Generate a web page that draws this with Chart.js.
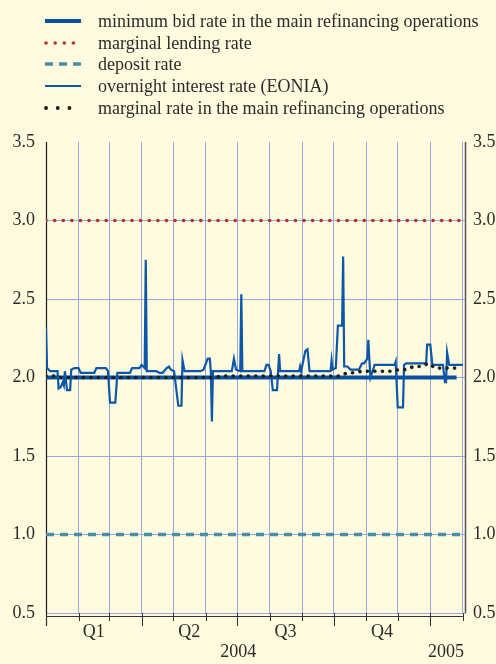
<!DOCTYPE html>
<html>
<head>
<meta charset="utf-8">
<script src="https://cdn.jsdelivr.net/npm/chart.js@4/dist/chart.umd.min.js"></script>
<style>
  html, body { margin: 0; padding: 0; background: #fffbdf; }
  #wrap { position: relative; width: 496px; height: 664px; background: #fffbdf; }
  #legend { position: absolute; left: 0; top: 0; width: 496px; font-family: 'Liberation Serif', serif; font-size: 18px; color: #2b2b2b; }
  .row { position: absolute; left: 44px; height: 22px; display: flex; align-items: center; white-space: nowrap; }
  .row svg { width: 40px; height: 22px; margin-right: 14px; }
</style>
</head>
<body>
<div id="wrap">
  <canvas id="chart" width="496" height="664"></canvas>
  <div id="legend">
    <div class="row" style="top:10px"><svg><line x1="1" y1="11" x2="37" y2="11" stroke="#0c4f9c" stroke-width="4"/></svg>minimum bid rate in the main refinancing operations</div>
    <div class="row" style="top:32px"><svg><line x1="2" y1="11" x2="38" y2="11" stroke="#b3342f" stroke-width="3.5" stroke-linecap="round" stroke-dasharray="0.1 9"/></svg>marginal lending rate</div>
    <div class="row" style="top:53px"><svg><line x1="1" y1="11" x2="38" y2="11" stroke="#4a8ea6" stroke-width="3.5" stroke-dasharray="8 6"/></svg>deposit rate</div>
    <div class="row" style="top:75px"><svg><line x1="1" y1="11" x2="37" y2="11" stroke="#0c57a8" stroke-width="2.2"/></svg>overnight interest rate (EONIA)</div>
    <div class="row" style="top:97px"><svg><line x1="2" y1="11" x2="37" y2="11" stroke="#1e1e1e" stroke-width="3.8" stroke-linecap="round" stroke-dasharray="0.1 11.6"/></svg>marginal rate in the main refinancing operations</div>
  </div>
</div>
<script>
// days counted from 1 January 2004
const monthStarts = [0, 31, 60, 91, 121, 152, 182, 213, 244, 274, 305, 335, 366, 397];
const quarterStarts = [0, 91, 182, 274, 366];
const quarterLabels = ['Q1', 'Q2', 'Q3', 'Q4'];
const quarterMid = [45.5, 136.5, 228, 320];
const yearLabels = ['2004', '2005'];
const yearMid = [183, 381];
const yTicks = [0.5, 1.0, 1.5, 2.0, 2.5, 3.0, 3.5];

// minimum bid rate in the main refinancing operations
const minBidDays = [0, 391];
const minBidRate = [2.00, 2.00];

// marginal lending rate
const lendingDays = [0, 400];
const lendingRate = [3.00, 3.00];

// deposit rate
const depositDays = [0, 400];
const depositRate = [1.00, 1.00];

// overnight interest rate (EONIA)
const eoniaDays = [
  0, 1, 4, 11, 12, 14, 16, 17, 18, 20, 23, 24, 27, 31, 33, 46, 48, 51, 57, 59,
  61, 66, 68, 70, 80, 82, 89, 91, 94, 95, 96, 105, 108, 111, 115, 117, 119, 122,
  126, 129, 130, 132, 147, 150, 154, 156, 157, 158, 159, 177, 179, 181, 185, 186,
  187, 208, 210, 212, 214, 216, 220, 222, 223, 241, 242, 243, 247, 249, 251, 271,
  272, 273, 276, 278, 282, 283, 284, 287, 290, 298, 301, 303, 306, 307, 308, 309,
  313, 332, 333, 335, 340, 341, 343, 362, 363, 366, 368, 378, 380, 381, 382, 384, 397
];
const eoniaRate = [
  2.32, 2.06, 2.04, 2.04, 1.93, 1.94, 1.97, 1.95, 2.04, 1.92, 1.92, 2.05, 2.06, 2.06, 2.03, 2.03, 2.06, 2.06, 2.06, 2.04,
  1.84, 1.84, 2.03, 2.03, 2.03, 2.06, 2.06, 2.08, 2.06, 2.75, 2.04, 2.04, 2.03, 2.03, 2.06, 2.07, 2.05, 2.04,
  1.82, 1.82, 2.11, 2.04, 2.04, 2.05, 2.12, 2.12, 2.04, 1.72, 2.04, 2.04, 2.12, 2.05, 2.04, 2.53,
  2.04, 2.04, 2.08, 2.08, 2.04, 1.92, 1.92, 2.15, 2.04, 2.04, 2.07, 2.04, 2.17, 2.18, 2.04, 2.04,
  2.11, 2.05, 2.06, 2.33, 2.33, 2.77, 2.07, 2.07, 2.05, 2.05, 2.09, 2.09, 2.12, 2.24, 2.11, 2.00,
  2.08, 2.08, 2.10, 1.81, 1.81, 2.08, 2.09, 2.09, 2.21, 2.21, 2.08, 2.08, 1.97, 1.97, 2.16, 2.08, 2.08
];

// marginal rate in the main refinancing operations (weekly tenders)
const marginalDays = [
  0, 7, 14, 21, 28, 35, 42, 49, 56, 63, 70, 77, 84, 91, 98, 105, 112, 119, 126, 133,
  140, 147, 154, 161, 168, 175, 182, 189, 196, 203, 210, 217, 224, 231, 238, 245, 252,
  259, 266, 273, 280, 287, 294, 301, 308, 315, 322, 329, 336, 343, 350, 357, 364, 371,
  378, 385, 392
];
const marginalRate = [
  2.01, 2.01, 2.00, 2.00, 2.00, 2.00, 2.00, 2.00, 2.00, 2.00, 2.00, 2.00, 2.00, 2.00, 2.00, 2.00, 2.00, 2.00, 2.00, 2.00,
  2.00, 2.00, 2.00, 2.00, 2.01, 2.01, 2.01, 2.01, 2.01, 2.01, 2.01, 2.01, 2.01, 2.01, 2.01, 2.01, 2.01,
  2.01, 2.01, 2.01, 2.01, 2.03, 2.03, 2.04, 2.04, 2.04, 2.04, 2.04, 2.05, 2.05, 2.07, 2.07, 2.09, 2.06,
  2.06, 2.06, 2.06
];

const gridColor = '#9aa8de';
const textColor = '#2b2b2b';
const serif = "'Liberation Serif', serif";

function pts(xs, ys) {
  return xs.map((x, i) => ({x: x, y: ys[i]}));
}

// axis frame, month brackets and quarter / year labels
const framePlugin = {
  id: 'frame',
  beforeDatasetsDraw(chart) {
    const ctx = chart.ctx;
    const a = chart.chartArea;
    const xs = chart.scales.x;
    ctx.save();
    ctx.strokeStyle = '#1a1a1a';
    ctx.lineWidth = 1.2;
    ctx.beginPath();
    ctx.moveTo(a.left + 0.5, a.top);
    ctx.lineTo(a.left + 0.5, a.bottom + 13);
    ctx.stroke();
    ctx.strokeStyle = '#555';
    ctx.lineWidth = 1.5;
    ctx.beginPath();
    ctx.moveTo(a.right - 0.5, a.top);
    ctx.lineTo(a.right - 0.5, a.bottom);
    ctx.stroke();

    // bracket row under the plot
    ctx.strokeStyle = '#333';
    ctx.lineWidth = 1;
    const yb = a.bottom + 3.5;
    ctx.beginPath();
    ctx.moveTo(a.left, yb);
    ctx.lineTo(xs.getPixelForValue(monthStarts[monthStarts.length - 1]), yb);
    monthStarts.forEach(d => {
      const px = Math.round(xs.getPixelForValue(d)) + 0.5;
      const len = quarterStarts.includes(d) ? 13 : 8;
      ctx.moveTo(px, a.bottom);
      ctx.lineTo(px, a.bottom + len);
    });
    ctx.stroke();
    ctx.restore();
  },
  afterDraw(chart) {
    const ctx = chart.ctx;
    const a = chart.chartArea;
    const xs = chart.scales.x;
    ctx.save();
    ctx.fillStyle = textColor;
    ctx.font = '18px ' + serif;
    ctx.textAlign = 'center';
    ctx.textBaseline = 'middle';
    quarterLabels.forEach((q, i) => ctx.fillText(q, xs.getPixelForValue(quarterMid[i]), a.bottom + 19));
    yearLabels.forEach((y, i) => ctx.fillText(y, xs.getPixelForValue(yearMid[i]), a.bottom + 39));
    ctx.restore();
  }
};

const ctx = document.getElementById('chart').getContext('2d');
new Chart(ctx, {
  type: 'line',
  data: {
    datasets: [
      {
        label: 'marginal rate in the main refinancing operations',
        data: pts(marginalDays, marginalRate),
        borderColor: '#1e1e1e',
        borderWidth: 3.6,
        borderDash: [0.1, 7.4],
        borderCapStyle: 'round',
        order: 0
      },
      {
        label: 'minimum bid rate in the main refinancing operations',
        data: pts(minBidDays, minBidRate),
        borderColor: '#0c4f9c',
        borderWidth: 4,
        borderCapStyle: 'butt',
        order: 2
      },
      {
        label: 'overnight interest rate (EONIA)',
        data: pts(eoniaDays, eoniaRate),
        borderColor: '#0c57a8',
        borderWidth: 2.2,
        order: 1
      },
      {
        label: 'marginal lending rate',
        data: pts(lendingDays, lendingRate),
        borderColor: '#b3342f',
        borderWidth: 3.6,
        borderDash: [0.1, 8.5],
        borderCapStyle: 'round',
        order: 3
      },
      {
        label: 'deposit rate',
        data: pts(depositDays, depositRate),
        borderColor: '#4a8ea6',
        borderWidth: 3.5,
        borderDash: [8, 6],
        order: 4
      }
    ]
  },
  options: {
    responsive: false,
    animation: false,
    events: [],
    elements: {
      point: {radius: 0},
      line: {tension: 0, fill: false}
    },
    layout: {padding: {top: 142, left: 0, right: 0, bottom: 0}},
    plugins: {
      legend: {display: false},
      tooltip: {enabled: false}
    },
    scales: {
      x: {
        type: 'linear',
        min: 0,
        max: 400,
        afterBuildTicks: s => { s.ticks = monthStarts.map(v => ({value: v})); },
        afterFit: s => { s.height = 51; },
        ticks: {display: false},
        border: {display: false},
        grid: {color: gridColor, lineWidth: 1, drawTicks: false}
      },
      y: {
        position: 'left',
        min: 0.5,
        max: 3.5,
        afterBuildTicks: s => { s.ticks = yTicks.map(v => ({value: v})); },
        afterFit: s => { s.width = 46; },
        border: {display: false},
        grid: {
          drawTicks: false,
          lineWidth: 1,
          color: c => (c.tick && c.tick.value === 3.5) ? 'rgba(0,0,0,0)' : gridColor
        },
        ticks: {
          padding: 11,
          color: textColor,
          font: {family: serif, size: 18},
          callback: v => v.toFixed(1)
        }
      },
      y2: {
        position: 'right',
        min: 0.5,
        max: 3.5,
        afterBuildTicks: s => { s.ticks = yTicks.map(v => ({value: v})); },
        afterFit: s => { s.width = 30; },
        border: {display: false},
        grid: {display: false, drawTicks: false},
        ticks: {
          padding: 7,
          color: textColor,
          font: {family: serif, size: 18},
          callback: v => v.toFixed(1)
        }
      }
    }
  },
  plugins: [framePlugin]
});
</script>
</body>
</html>
